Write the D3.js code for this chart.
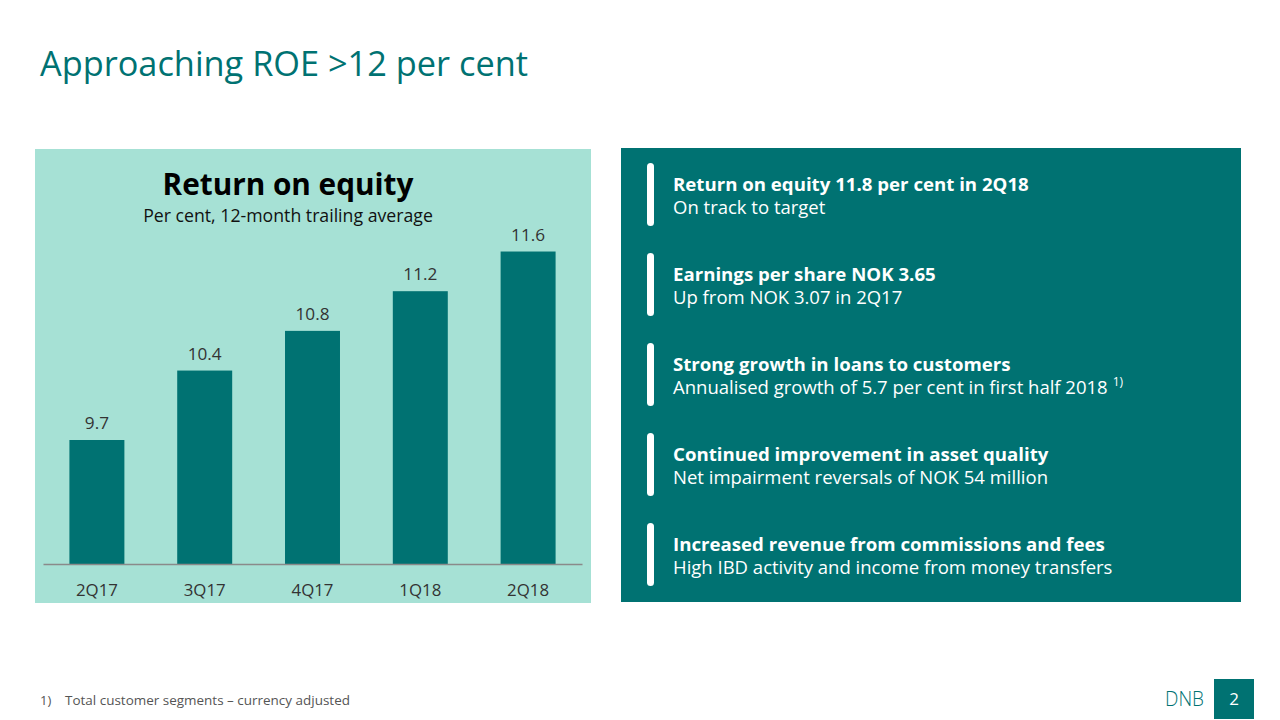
<!DOCTYPE html>
<html>
<head>
<meta charset="utf-8">
<script src="https://cdn.jsdelivr.net/npm/d3@7"></script>
<style>
  html, body { margin: 0; padding: 0; background: #fff; }
  svg { display: block; }
  text { font-family: "Open Sans", "Noto Sans", sans-serif; }
</style>
</head>
<body>
<svg id="chart" width="1280" height="720"></svg>
<script>
// ---- Data ----
const categories = ["2Q17", "3Q17", "4Q17", "1Q18", "2Q18"];
const roeValues = [9.7, 10.4, 10.8, 11.2, 11.6];
const valueLabels = ["9.7", "10.4", "10.8", "11.2", "11.6"];
const headlines = [
  "Return on equity 11.8 per cent in 2Q18",
  "Earnings per share NOK 3.65",
  "Strong growth in loans to customers",
  "Continued improvement in asset quality",
  "Increased revenue from commissions and fees"
];
const details = [
  "On track to target",
  "Up from NOK 3.07 in 2Q17",
  "Annualised growth of 5.7 per cent in first half 2018",
  "Net impairment reversals of NOK 54 million",
  "High IBD activity and income from money transfers"
];
const detailNotes = ["", "", "1)", "", ""];
const pageTitle = "Approaching ROE >12 per cent";
const chartTitle = "Return on equity";
const chartSubtitle = "Per cent, 12-month trailing average";
const footnote = ["1)", "Total customer segments \u2013 currency adjusted"];
const pageNumber = "2";

// ---- Styles ----
const TEAL = "#007272";
const MINT = "#A6E1D5";

const svg = d3.select("#chart");

// Fit helper: scales font-size so the text's width matches the target
function fit(sel, target) {
  const w = sel.node().getComputedTextLength();
  const fs = parseFloat(sel.attr("font-size"));
  sel.attr("font-size", (fs * target / w).toFixed(2));
  return fs * target / w;
}

// Page title
const t = svg.append("text").attr("x", 40).attr("y", 76)
  .attr("font-size", 36).attr("fill", TEAL).text(pageTitle);
fit(t, 488);

// Left panel
svg.append("rect").attr("x", 35).attr("y", 149).attr("width", 556).attr("height", 454).attr("fill", MINT);

const ct = svg.append("text").attr("x", 288).attr("y", 195).attr("text-anchor", "middle")
  .attr("font-size", 30).attr("font-weight", 700).attr("fill", "#000").text(chartTitle);
fit(ct, 251);
const cs = svg.append("text").attr("x", 288).attr("y", 222).attr("text-anchor", "middle")
  .attr("font-size", 17).attr("fill", "#111").text(chartSubtitle);
fit(cs, 290);

// Scales
const x = d3.scaleBand().domain(categories).range([43, 582]).paddingInner(0.49).paddingOuter(0.245);
const y = d3.scaleLinear().domain([8.45, 12]).range([564, 564 - 3.55 * 99.2]);

const g = svg.append("g");
g.selectAll("rect.bar").data(roeValues).join("rect").attr("class", "bar")
  .attr("x", (d, i) => x(categories[i]))
  .attr("y", d => y(d))
  .attr("width", x.bandwidth())
  .attr("height", d => y(8.45) - y(d))
  .attr("fill", TEAL);

const vl = g.selectAll("text.val").data(roeValues).join("text").attr("class", "val")
  .attr("x", (d, i) => x(categories[i]) + x.bandwidth() / 2)
  .attr("y", d => y(d) - 11)
  .attr("text-anchor", "middle").attr("font-size", 16).attr("fill", "#333")
  .text((d, i) => valueLabels[i]);

// axis
const xAxis = d3.axisBottom(x).tickSize(0).tickPadding(0);
const ax = svg.append("g").attr("transform", "translate(0,564)").call(xAxis);
ax.select(".domain").attr("stroke", "#8a8a8a").attr("stroke-width", 1.5);
ax.selectAll(".tick text").attr("font-size", 16).attr("fill", "#333")
  .attr("dy", null).attr("y", 32).style("font-family", "'Open Sans', 'Noto Sans', sans-serif");

// fit value/axis label sizes
{
  const n = vl.filter((d, i) => i === 4);
  const s = 16 * 34 / n.node().getComputedTextLength();
  vl.attr("font-size", s.toFixed(2));
  const tk = ax.selectAll(".tick text").filter((d, i) => i === 0);
  const s2 = 16 * 42 / tk.node().getComputedTextLength();
  ax.selectAll(".tick text").attr("font-size", s2.toFixed(2));
}

// Right panel
svg.append("rect").attr("x", 621).attr("y", 148).attr("width", 620).attr("height", 454).attr("fill", TEAL);

const items = svg.append("g").selectAll("g").data(headlines).join("g")
  .attr("transform", (d, i) => `translate(0, ${i * 90})`);
items.append("rect").attr("x", 647).attr("y", 163).attr("width", 7).attr("height", 63)
  .attr("rx", 3.5).attr("fill", "#fff");
const hl = items.append("text").attr("x", 673).attr("y", 191).attr("font-size", 19)
  .attr("font-weight", 700).attr("fill", "#fff").text(d => d);
const dt = items.append("text").attr("x", 673).attr("y", 214).attr("font-size", 19)
  .attr("fill", "#fff").text((d, i) => details[i]);
{
  const s = 19 * 356 / hl.filter((d, i) => i === 0).node().getComputedTextLength();
  hl.attr("font-size", s.toFixed(2));
  const s2 = 19 * 375 / dt.filter((d, i) => i === 3).node().getComputedTextLength();
  dt.attr("font-size", s2.toFixed(2));
}
items.each(function(d, i) {
  if (!detailNotes[i]) return;
  const txt = d3.select(this).select("text:nth-of-type(2)");
  const w = txt.node().getComputedTextLength();
  d3.select(this).append("text").attr("x", 673 + w + 5).attr("y", 206)
    .attr("font-size", 12).attr("fill", "#fff").text(detailNotes[i]);
});

// Footnote
svg.append("text").attr("x", 40).attr("y", 705).attr("font-size", 13).attr("fill", "#555").text(footnote[0]);
const fn = svg.append("text").attr("x", 65).attr("y", 705).attr("font-size", 13).attr("fill", "#555").text(footnote[1]);
fit(fn, 285);

// Logo + page number
svg.append("text").attr("x", 1165).attr("y", 706).attr("font-size", 21).attr("font-weight", 300)
  .attr("fill", TEAL).attr("textLength", 39).attr("lengthAdjust", "spacingAndGlyphs").text("DNB");
svg.append("rect").attr("x", 1214).attr("y", 679).attr("width", 40).attr("height", 40).attr("fill", TEAL);
svg.append("text").attr("x", 1234).attr("y", 705).attr("text-anchor", "middle").attr("font-size", 17)
  .attr("fill", "#fff").text(pageNumber);
</script>
</body>
</html>
